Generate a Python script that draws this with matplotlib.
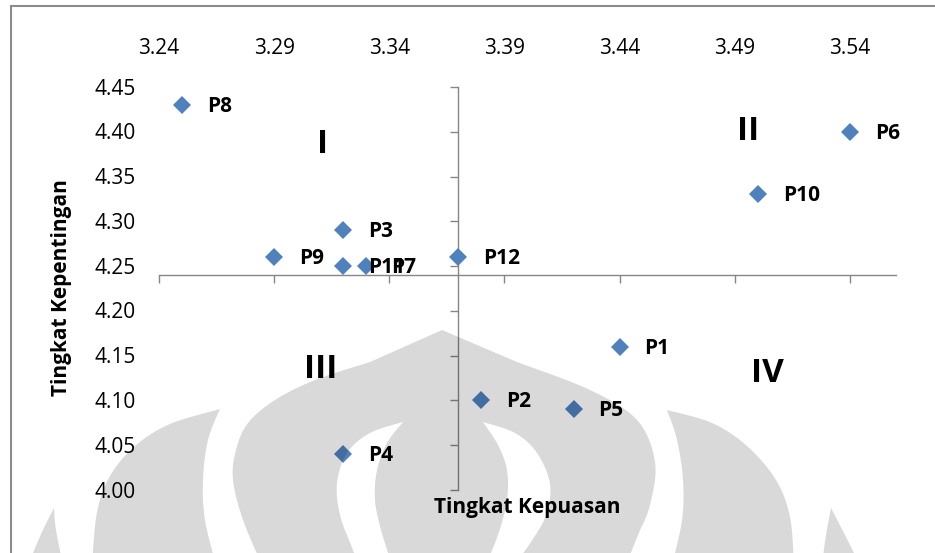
import numpy as np
import matplotlib
matplotlib.use('Agg')
import matplotlib.pyplot as plt
from matplotlib.path import Path
from matplotlib.patches import PathPatch, Rectangle

plt.rcParams['font.family'] = ['Open Sans', 'DejaVu Sans']

# Data: tingkat kepuasan (x) vs tingkat kepentingan (y)
labels = ['P1', 'P2', 'P3', 'P4', 'P5', 'P6', 'P7', 'P8', 'P9', 'P10', 'P11', 'P12']
kepuasan = [3.44, 3.38, 3.32, 3.32, 3.42, 3.54, 3.33, 3.25, 3.29, 3.50, 3.32, 3.37]
kepentingan = [4.16, 4.10, 4.29, 4.04, 4.09, 4.40, 4.25, 4.43, 4.26, 4.33, 4.25, 4.26]

xticks = [3.24, 3.29, 3.34, 3.39, 3.44, 3.49, 3.54]
yticks = [4.00, 4.05, 4.10, 4.15, 4.20, 4.25, 4.30, 4.35, 4.40, 4.45]
x_cross = 3.37
y_cross = 4.24

quadrant_names = ['I', 'II', 'III', 'IV']
quadrant_pos = [(3.311, 4.386), (3.496, 4.400), (3.310, 4.134), (3.504, 4.130)]

W, H = 935, 553
BLUE = '#4F81BD'
AXIS_GRAY = '#868686'

fig = plt.figure(figsize=(W / 100, H / 100), dpi=100)
ax = fig.add_axes([159 / W, 1 - 490 / H, 737 / W, 403 / H])
ax.set_xlim(3.24, 3.56)
ax.set_ylim(4.00, 4.45)
ax.patch.set_visible(False)

# Axes crossing in the middle of the plot
for s in ['top', 'right']:
    ax.spines[s].set_visible(False)
ax.spines['left'].set_position(('data', x_cross))
ax.spines['bottom'].set_position(('data', y_cross))
for s in ['left', 'bottom']:
    ax.spines[s].set_color(AXIS_GRAY)
    ax.spines[s].set_linewidth(1.0)
ax.set_xticks(xticks)
ax.set_yticks(yticks)
ax.tick_params(labelbottom=False, labelleft=False, direction='out',
               length=6, width=1.0, color=AXIS_GRAY)

# Tick labels sit on the outer edges (top and left)
for v in xticks:
    ax.annotate('%.2f' % v, xy=(v, 1), xycoords=('data', 'axes fraction'),
                xytext=(0, 27.5), textcoords='offset points', ha='center', va='center',
                fontsize=15, annotation_clip=False)
for v in yticks:
    ax.annotate('%.2f' % v, xy=(0, v), xycoords=('axes fraction', 'data'),
                xytext=(-17, -1.5), textcoords='offset points', ha='right', va='center',
                fontsize=15, annotation_clip=False)

# Points and their labels
ax.plot(kepuasan, kepentingan, linestyle='none', marker='D', markersize=9.5,
        markerfacecolor=BLUE, markeredgewidth=0, zorder=3)
for lbl, x, y in zip(labels, kepuasan, kepentingan):
    ax.annotate(lbl, (x, y), xytext=(18, -1), textcoords='offset points',
                ha='left', va='center', fontsize=15, fontweight='bold',
                annotation_clip=False)

for name, (qx, qy) in zip(quadrant_names, quadrant_pos):
    ax.text(qx, qy, name, ha='center', va='center', fontsize=24, fontweight='bold')

fig.text(62 / W, 1 - 288 / H, 'Tingkat Kepentingan', rotation=90, ha='center',
         va='center', fontsize=15, fontweight='bold')
fig.text(527 / W, 1 - 508 / H, 'Tingkat Kepuasan', ha='center', va='center',
         fontsize=15, fontweight='bold')

# Chart frame
fig.add_artist(Rectangle((11 / W, -0.2), 1.2, 1.2 - 6 / H, transform=fig.transFigure,
                         fill=False, edgecolor='#8c8c8c', linewidth=1.5))


# Background logo, drawn as smooth outlines in pixel units
def smooth(pts, n=14):
    pts = np.asarray(pts, float)
    p = np.vstack([pts[0], pts, pts[-1]])
    out = []
    t = np.linspace(0, 1, n, endpoint=False)[:, None]
    for i in range(1, len(p) - 2):
        p0, p1, p2, p3 = p[i - 1], p[i], p[i + 1], p[i + 2]
        out.append(0.5 * (2 * p1 + (-p0 + p2) * t + (2 * p0 - 5 * p1 + 4 * p2 - p3) * t ** 2
                          + (-p0 + 3 * p1 - 3 * p2 + p3) * t ** 3))
    out.append(p[-2][None])
    return np.vstack(out)


def outline(*edges):
    return np.vstack([smooth(e) for e in edges])


def area(a):
    x, y = a[:, 0], a[:, 1]
    return 0.5 * np.sum(x * np.roll(y, -1) - np.roll(x, -1) * y)


solids = [
    outline([(442, 330), (517, 362)],
            [(517, 362), (590, 390), (637, 420), (655, 462), (650, 505), (638, 535), (626, 565)],
            [(626, 565), (262, 565)],
            [(262, 565), (243, 520), (233, 480), (236, 450), (248, 423), (275, 400),
             (315, 380), (370, 362)],
            [(370, 362), (442, 330)]),
    outline([(220, 409), (170, 424), (135, 446), (110, 476), (97, 512), (92, 565)],
            [(92, 565), (216, 565)],
            [(216, 565), (205, 520), (203, 480), (208, 440), (220, 409)]),
    outline([(667, 410), (712, 423), (747, 446), (776, 480), (790, 517), (794, 565)],
            [(794, 565), (672, 565)],
            [(672, 565), (682, 520), (683, 480), (677, 440), (667, 410)]),
    outline([(54, 508), (42, 532), (28, 565)], [(28, 565), (63, 565)],
            [(63, 565), (56, 530), (54, 508)]),
    outline([(831, 508), (845, 535), (860, 565)], [(860, 565), (822, 565)],
            [(822, 565), (826, 535), (831, 508)]),
]
holes = [
    outline([(403, 422), (370, 433), (347, 453), (337, 483), (340, 515), (351, 545), (359, 565)],
            [(359, 565), (392, 565)],
            [(392, 565), (381, 530), (375, 500), (377, 470), (387, 443), (403, 422)]),
    outline([(483, 422), (515, 433), (537, 453), (550, 484), (546, 515), (531, 542), (514, 565)],
            [(514, 565), (486, 565)],
            [(486, 565), (499, 532), (507, 500), (507, 470), (498, 445), (483, 422)]),
]

verts, codes = [], []
for shape, sign in [(s, 1) for s in solids] + [(h, -1) for h in holes]:
    pts = np.column_stack([shape[:, 0] / W, 1 - shape[:, 1] / H])
    if np.sign(area(pts)) != sign:
        pts = pts[::-1]
    verts.extend(pts.tolist() + [pts[0].tolist()])
    codes.extend([Path.MOVETO] + [Path.LINETO] * (len(pts) - 1) + [Path.CLOSEPOLY])

logo = PathPatch(Path(verts, codes), transform=fig.transFigure, facecolor='black',
                 edgecolor='none', alpha=0.15, zorder=5)
fig.add_artist(logo)

fig.savefig('out.png', dpi=100)
